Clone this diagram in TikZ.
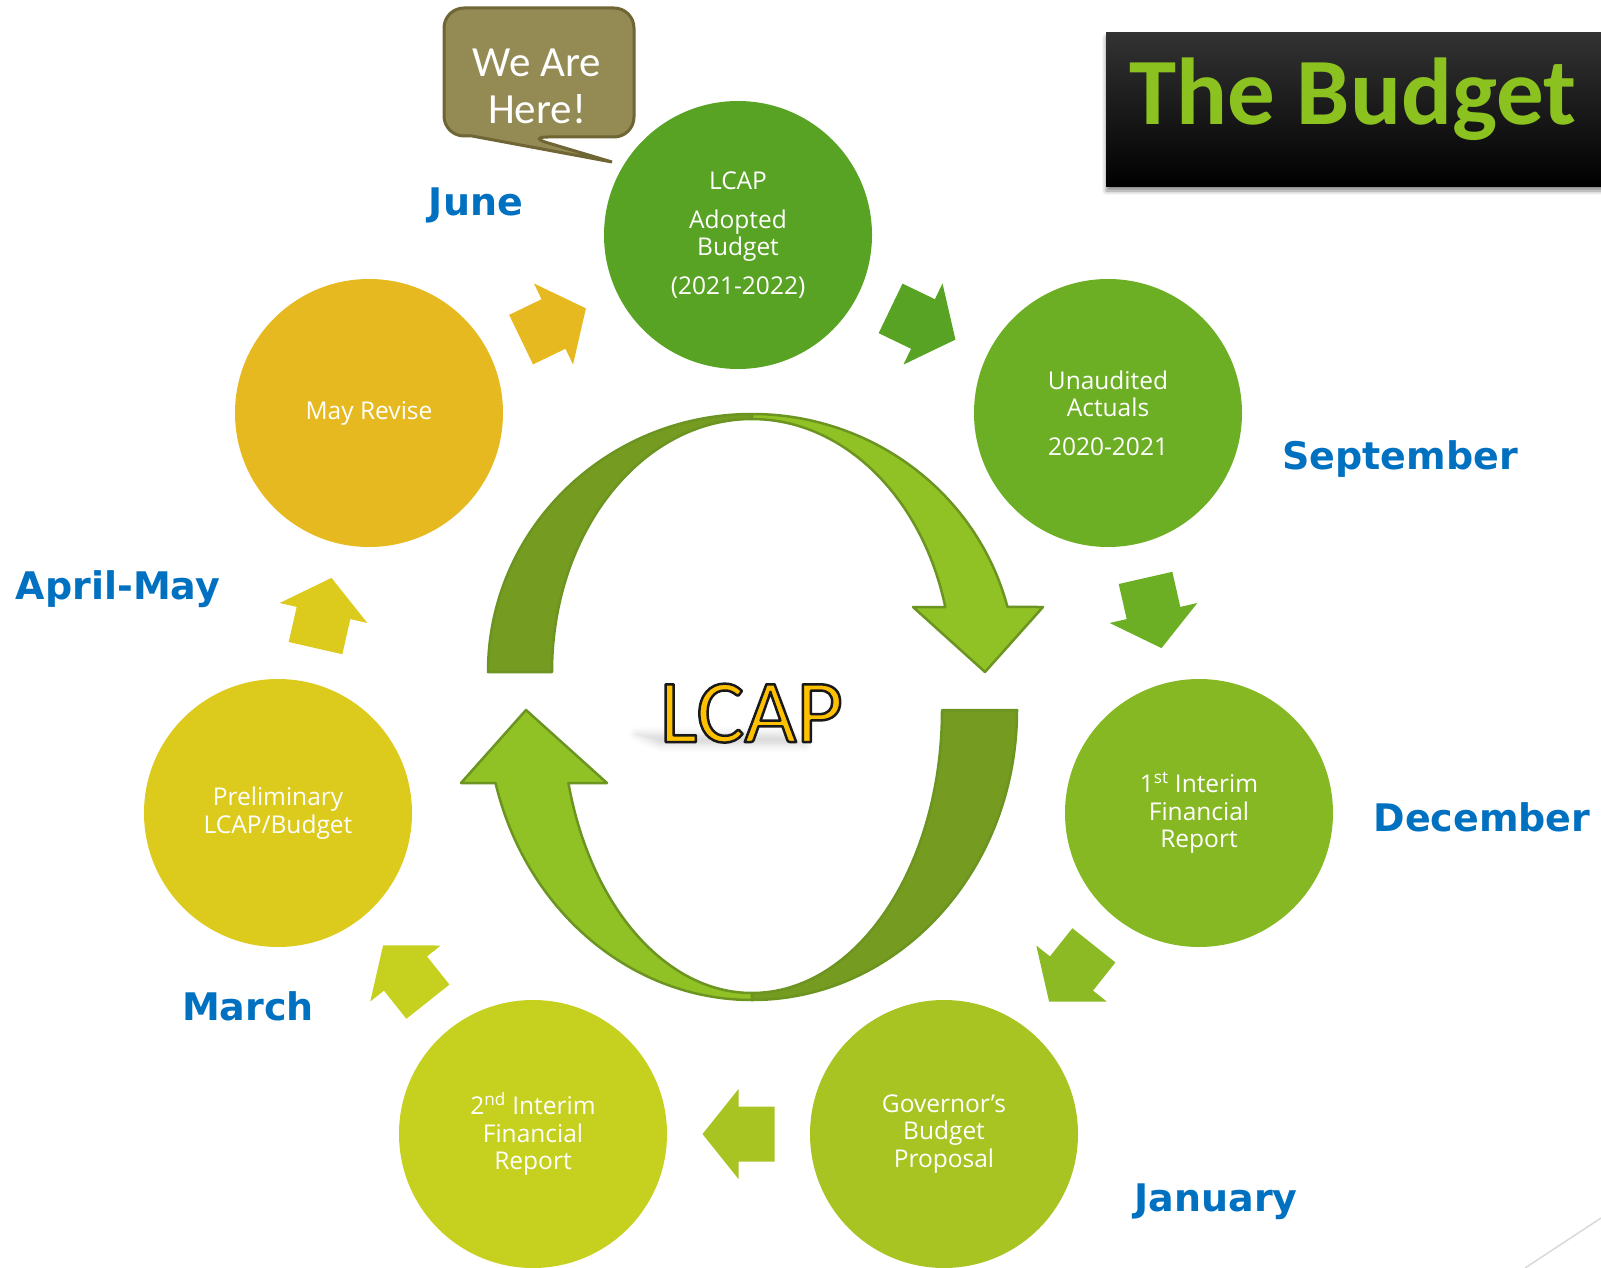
\documentclass[tikz,border=0pt]{standalone}
\usepackage{fontspec}
\setmainfont{Open Sans}
\newfontfamily\labelfont{DejaVu Sans}
\newfontfamily\headfont{Carlito}
\usetikzlibrary{calc,shadows.blur}

\definecolor{monthblue}{HTML}{0070C0}
\definecolor{budgetgreen}{HTML}{8CC220}
\definecolor{lcapyellow}{HTML}{FFC000}
\definecolor{bubblefill}{HTML}{948A54}
\definecolor{bubbleedge}{HTML}{6F6535}
\definecolor{ringdark}{HTML}{759B20}
\definecolor{ringlight}{HTML}{91C225}
\definecolor{ringedge}{HTML}{6B9421}
% stage colours, June round to May
\definecolor{junegreen}{HTML}{58A324}
\definecolor{septgreen}{HTML}{6DAF24}
\definecolor{decgreen}{HTML}{86B824}
\definecolor{jangreen}{HTML}{A8C423}
\definecolor{marchlime}{HTML}{C6D01F}
\definecolor{aprilyellow}{HTML}{DCCA1D}
\definecolor{mayyellow}{HTML}{E6B920}

% block arrow half way between two stages, pointing from #1 to #2
\newcommand\steparrow[3]{%
  \path let \p1=($(#2)-(#1)$), \n1={atan2(\y1,\x1)} in
    ($(#1)!0.5!(#2)$) pic[rotate=\n1] {steparrow=#3};}

% stroked letters (fill and stroke render mode)
\newcommand\outlined[1]{%
  \special{pdf:literal direct 2 Tr 2.5 w 0.1 0.1 0.1 RG 1 j}#1\special{pdf:literal direct 0 Tr}}

\begin{document}
\begin{tikzpicture}[x=1pt, y=-1pt,
    stage/.style={circle, fill=#1, minimum size=268pt, inner sep=0pt, text=white,
      align=center, font=\fontsize{24.5}{27.5}\selectfont},
    month/.style={text=monthblue, anchor=base, font=\labelfont\bfseries\fontsize{38}{40}\selectfont},
    ring/.style={draw=ringedge, line width=2.5pt, line join=round},
    pics/steparrow/.style={code={
      \fill[#1] (-36,-27.5) -- (0,-27.5) -- (0,-45) -- (36,0) -- (0,45) -- (0,27.5) -- (-36,27.5) -- cycle;}}]
    \clip (0,0) rectangle (1601,1268);

    % title bar
    \fill[top color=black!80, middle color=black, bottom color=black,
      blur shadow={shadow xshift=0pt, shadow yshift=-4pt, shadow blur radius=4pt, shadow opacity=45}]
      (1106,33) rectangle (1640,187);
    \node[anchor=base west, text=budgetgreen, font=\headfont\bfseries\fontsize{95}{100}\selectfont]
      (title) at (1126,125) {The Budget};

    % the seven stages
    \node[stage=junegreen] (adopted) at (738,235) {LCAP\\[11pt]Adopted\\Budget\\[11pt](2021-2022)};
    \node[stage=septgreen] (unaudited) at (1108,413) {Unaudited\\Actuals\\[11pt]2020-2021};
    \node[stage=decgreen] (first) at (1199,813) {1\textsuperscript{st} Interim\\Financial\\Report};
    \node[stage=jangreen] (governor) at (944,1134) {Governor’s\\Budget\\Proposal};
    \node[stage=marchlime] (second) at (533,1134) {2\textsuperscript{nd} Interim\\Financial\\Report};
    \node[stage=aprilyellow] (prelim) at (278,813) {Preliminary\\LCAP/Budget};
    \node[stage=mayyellow] (mayrev) at (369,413) {May Revise};

    \steparrow{adopted}{unaudited}{junegreen}
    \steparrow{unaudited}{first}{septgreen}
    \steparrow{first}{governor}{decgreen!85!jangreen}
    \steparrow{governor}{second}{jangreen}
    \steparrow{second}{prelim}{marchlime}
    \steparrow{prelim}{mayrev}{aprilyellow}
    \steparrow{mayrev}{adopted}{mayyellow}

    % months
    \node[month] (june) at (476,215) {June};
    \node[month] (sept) at (1400,469) {September};
    \node[month] (dec) at (1482,831) {December};
    \node[month] (jan) at (1216,1211) {January};
    \node[month] (march) at (248,1020) {March};
    \node[month] (april) at (118,599) {April-May};

    % centre cycle, upper arrow
    \draw[ring, fill=ringdark] (488,672) arc[start angle=180, end angle=270, x radius=264, y radius=258]
      -- (752,419) arc[start angle=270, end angle=180, x radius=200, y radius=253] -- cycle;
    \draw[ring, fill=ringlight] (752,414) arc[start angle=270, end angle=345.4, x radius=264, y radius=258]
      -- (1043,607) -- (985,672) -- (913,607) -- (945.3,607)
      arc[start angle=345.1, end angle=270, x radius=200, y radius=253] -- cycle;
    % lower arrow
    \draw[ring, fill=ringdark] (1017,710) arc[start angle=0, end angle=90, x radius=265, y radius=290]
      -- (752,993) arc[start angle=90, end angle=0, x radius=190, y radius=283] -- cycle;
    \draw[ring, fill=ringlight] (752,1000) arc[start angle=90, end angle=165.4, x radius=265, y radius=290]
      -- (461,783) -- (526,710) -- (607,783) -- (568.4,783)
      arc[start angle=165.05, end angle=90, x radius=190, y radius=283] -- cycle;

    % soft shadow under the centre word
    \path[blur shadow={shadow xshift=0pt, shadow yshift=0pt, shadow blur radius=7pt, shadow opacity=16}]
      (636,734) -- (786,734) -- (806,745) -- (660,745) -- cycle;
    \node[anchor=base west, text=lcapyellow, font=\headfont\fontsize{90}{92}\selectfont] (hub) at (656,742)
      {\outlined{LCAP}};

    % speech bubble
    \draw[fill=bubblefill, draw=bubbleedge, line width=3pt, rounded corners=20pt]
      (444,70) -- (444,8) -- (634,8) -- (634,137) -- (528,137) [sharp corners] -- (612,162)
      -- (472,136) [rounded corners=20pt] -- (444,136) -- cycle;
    \node[text=white, align=center, font=\headfont\fontsize{43}{47}\selectfont] (here) at (537,86) {We Are\\Here!};

    \draw[black!15, line width=1.5pt] (1601,1218) -- (1525,1268);
\end{tikzpicture}
\end{document}
